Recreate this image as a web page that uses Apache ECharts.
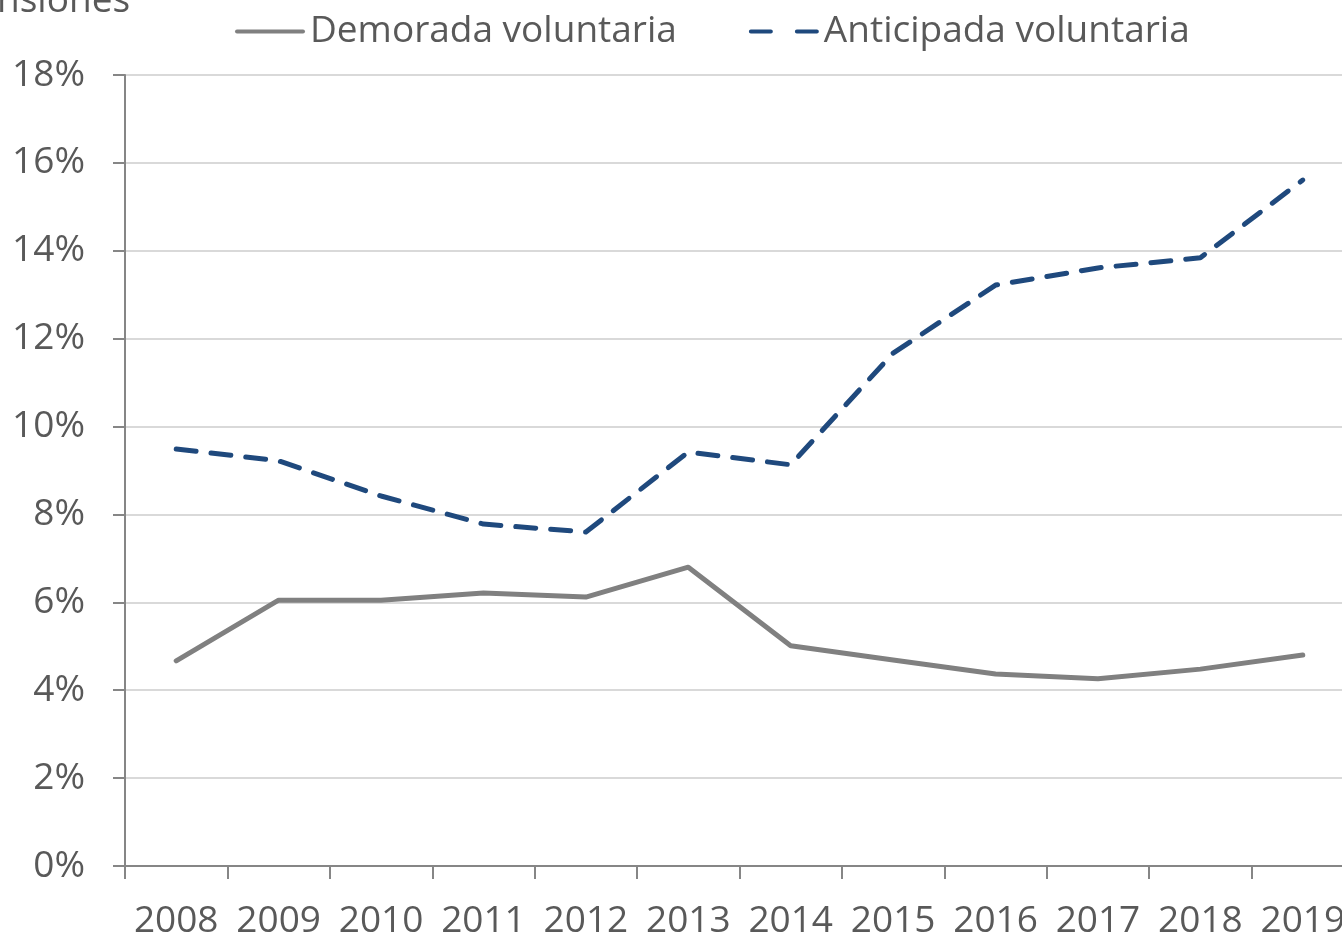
<!DOCTYPE html>
<html>
<head>
<meta charset="utf-8">
<script src="https://cdn.jsdelivr.net/npm/echarts@6/dist/echarts.min.js"></script>
<style>
  html, body { margin: 0; padding: 0; background: #fff; overflow: hidden; }
  #chart { width: 1354px; height: 937px; }
</style>
</head>
<body>
<div id="chart"></div>
<script>
const years = ['2008', '2009', '2010', '2011', '2012', '2013', '2014', '2015', '2016', '2017', '2018', '2019']
const demorada = [4.67, 6.05, 6.05, 6.21, 6.12, 6.8, 5.01, 4.69, 4.37, 4.26, 4.48, 4.8]
const anticipada = [9.49, 9.22, 8.42, 7.78, 7.6, 9.42, 9.13, 11.67, 13.22, 13.61, 13.84, 15.61]

const font = 'Open Sans'
const textColor = '#595959'

// plot area runs past the right edge of the window, like the original
const chart = echarts.init(document.getElementById('chart'))
chart.setOption({
  animation: false,
  textStyle: { fontFamily: font },
  graphic: [
    {
      type: 'text',
      left: -46,
      top: -17,
      style: { text: 'Pensiones', fontSize: 37, fontFamily: font, fill: textColor }
    }
  ],
  legend: {
    top: 8,
    left: 230,
    itemWidth: 70,
    itemHeight: 4,
    itemGap: 72,
    textStyle: { fontSize: 37, color: textColor, fontFamily: font, padding: [0, 0, 0, 0] },
    data: [
      { name: 'Demorada voluntaria', icon: 'path://M2,0H68A2,2,0,0,1,68,4H2A2,2,0,0,1,2,0Z' },
      { name: 'Anticipada voluntaria', icon: 'path://M2,0H22A2,2,0,0,1,22,4H2A2,2,0,0,1,2,0ZM48,0H68A2,2,0,0,1,68,4H48A2,2,0,0,1,48,0Z' }
    ]
  },
  grid: { left: 125, top: 75, bottom: 71, right: 0, containLabel: false, outerBoundsMode: 'none' },
  xAxis: {
    type: 'category',
    data: years,
    boundaryGap: true,
    axisLine: { lineStyle: { color: '#868686', width: 2 } },
    axisTick: { show: true, interval: 0, length: 13, lineStyle: { color: '#868686', width: 2 } },
    axisLabel: { interval: 0, hideOverlap: false, fontSize: 37, color: textColor, margin: 37, fontFamily: font }
  },
  yAxis: {
    type: 'value',
    min: 0,
    max: 18,
    interval: 2,
    axisLine: { show: true, lineStyle: { color: '#868686', width: 2 } },
    axisTick: { show: true, length: 12, lineStyle: { color: '#868686', width: 2 } },
    axisLabel: { fontSize: 37, color: textColor, margin: 40, formatter: '{value}%', fontFamily: font },
    splitLine: { lineStyle: { color: '#d9d9d9', width: 2 } }
  },
  series: [
    {
      name: 'Demorada voluntaria',
      type: 'line',
      data: demorada,
      symbol: 'none',
      itemStyle: { color: '#808080' },
      lineStyle: { color: '#808080', width: 5, cap: 'round', join: 'round' }
    },
    {
      name: 'Anticipada voluntaria',
      type: 'line',
      data: anticipada,
      symbol: 'none',
      itemStyle: { color: '#1f497d' },
      lineStyle: { color: '#1f497d', width: 5, type: [20, 15], cap: 'round', join: 'round' }
    }
  ]
})
</script>
</body>
</html>
